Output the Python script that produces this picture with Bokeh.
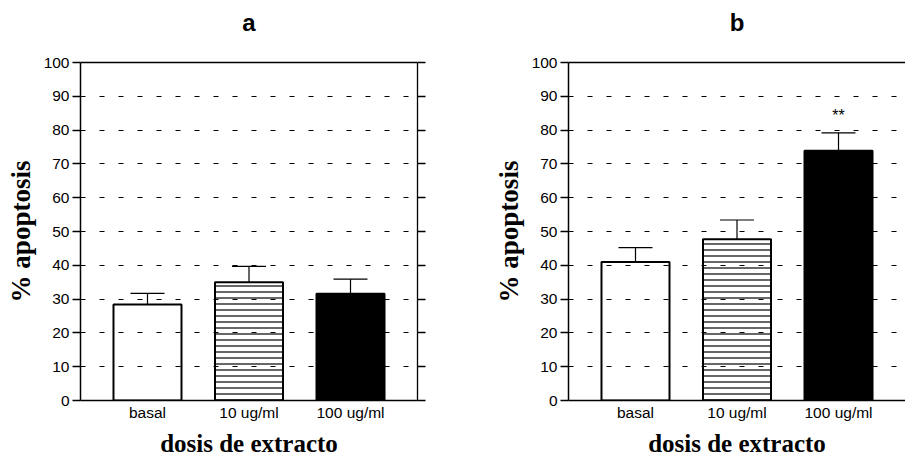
from bokeh.plotting import figure
from bokeh.layouts import row
from bokeh.models import (Range1d, LinearAxis, FixedTicker, Whisker, TeeHead,
                          ColumnDataSource)
from bokeh.embed import file_html
from bokeh.resources import INLINE
from bokeh.core.properties import value

# ---- data ----
categories = ["basal", "10 ug/ml", "100 ug/ml"]
y_ticks = [0, 10, 20, 30, 40, 50, 60, 70, 80, 90, 100]
a_mean = [28.4, 35.0, 31.6]
a_upper = [31.7, 39.7, 35.9]
a_sig = ["", "", ""]
b_mean = [41.0, 47.7, 73.9]
b_upper = [45.2, 53.4, 79.2]
b_sig = ["", "", "**"]
panel_titles = ["a", "b"]
x_label = "dosis de extracto"
y_label = "% apoptosis"

# ---- styles ----
fills = ["white", "white", "black"]
hatches = [" ", "-", " "]
SANS = "Liberation Sans"
SERIF = "Liberation Serif"


def make_panel(title, means, uppers, sig, frame_w, border_l, border_r, x_end, right_axis):
    pos = list(range(1, len(categories) + 1))
    src = ColumnDataSource(dict(x=pos, mean=means, upper=uppers, sig=sig,
                                fill=fills, hatch=hatches))
    p = figure(frame_width=frame_w, frame_height=338,
               min_border_left=border_l, min_border_right=border_r,
               min_border_top=62, min_border_bottom=55,
               x_range=Range1d(0.34, x_end), y_range=Range1d(y_ticks[0], y_ticks[-1]),
               output_backend="svg", toolbar_location=None,
               x_axis_location=None, y_axis_location=None)
    p.outline_line_color = None
    p.background_fill_color = "white"
    p.border_fill_color = "white"
    p.xgrid.visible = False

    # left axis
    ya = LinearAxis(ticker=FixedTicker(ticks=y_ticks), axis_label=y_label)
    ya.axis_label_text_font = SERIF
    ya.axis_label_text_font_style = "bold"
    ya.axis_label_text_font_size = "27px"
    ya.axis_label_text_color = "black"
    ya.axis_label_standoff = 5
    ya.major_label_text_font = SANS
    ya.major_label_text_font_size = "15.5px"
    ya.major_label_text_color = "black"
    ya.major_label_standoff = 3
    ya.major_tick_out = 8
    ya.major_tick_in = 0
    ya.minor_tick_out = 0
    ya.minor_tick_in = 0
    ya.axis_line_width = 1.5
    ya.major_tick_line_width = 1.5
    p.add_layout(ya, "left")

    # bottom axis
    xa = LinearAxis(ticker=FixedTicker(ticks=pos), axis_label=x_label)
    xa.major_label_overrides = {i: c for i, c in zip(pos, categories)}
    xa.axis_label_text_font = SERIF
    xa.axis_label_text_font_style = "bold"
    xa.axis_label_text_font_size = "25px"
    xa.axis_label_text_color = "black"
    xa.axis_label_standoff = 6
    xa.major_label_text_font = SANS
    xa.major_label_text_font_size = "15.5px"
    xa.major_label_text_color = "black"
    xa.major_label_standoff = 3
    xa.major_tick_out = 0
    xa.major_tick_in = 0
    xa.minor_tick_out = 0
    xa.minor_tick_in = 0
    xa.axis_line_width = 1.5
    p.add_layout(xa, "below")

    # top line, carrying the panel letter as its label
    ta = LinearAxis(ticker=FixedTicker(ticks=[]), axis_label=title)
    ta.major_tick_out = 0
    ta.minor_tick_out = 0
    ta.axis_line_width = 1.5
    ta.major_label_standoff = 0
    ta.axis_label_standoff = 27
    ta.axis_label_text_font = SANS
    ta.axis_label_text_font_style = "bold"
    ta.axis_label_text_font_size = "24px"
    ta.axis_label_text_color = "black"
    p.add_layout(ta, "above")

    if right_axis:
        ra = LinearAxis(ticker=FixedTicker(ticks=y_ticks))
        ra.major_label_overrides = {v: "" for v in y_ticks}
        ra.major_label_standoff = 0
        ra.major_tick_out = 8
        ra.major_tick_in = 0
        ra.minor_tick_out = 0
        ra.minor_tick_in = 0
        ra.axis_line_width = 1.3
        ra.major_tick_line_width = 1.3
        p.add_layout(ra, "right")

    p.ygrid.ticker = FixedTicker(ticks=y_ticks[1:-1])
    p.ygrid.grid_line_color = "black"
    p.ygrid.grid_line_width = 1
    p.ygrid.grid_line_dash = "5 14"
    p.ygrid.level = "overlay"

    p.vbar(x="x", top="mean", bottom=0, width=0.67, source=src,
           fill_color="fill", line_color="black", line_width=2,
           hatch_pattern="hatch", hatch_color="black", hatch_scale=6,
           hatch_weight=1.2)

    w = Whisker(base="x", lower="mean", upper="upper", source=src,
                dimension="height", line_color="black", line_width=1.2,
                upper_head=TeeHead(size=34, line_color="black", line_width=1.2),
                lower_head=None)
    p.add_layout(w)

    p.text(x="x", y="upper", text="sig", source=src, y_offset=-17,
           text_font=value(SANS), text_font_size="16px",
           text_align="center", text_baseline="middle", text_color="black")
    return p


pa = make_panel(panel_titles[0], a_mean, a_upper, a_sig, 337, 80, 33, 3.66, True)
pb = make_panel(panel_titles[1], b_mean, b_upper, b_sig, 337, 118, 0, 3.66, False)

layout = row(pa, pb)
open("out.html", "w").write(file_html(layout, INLINE))
